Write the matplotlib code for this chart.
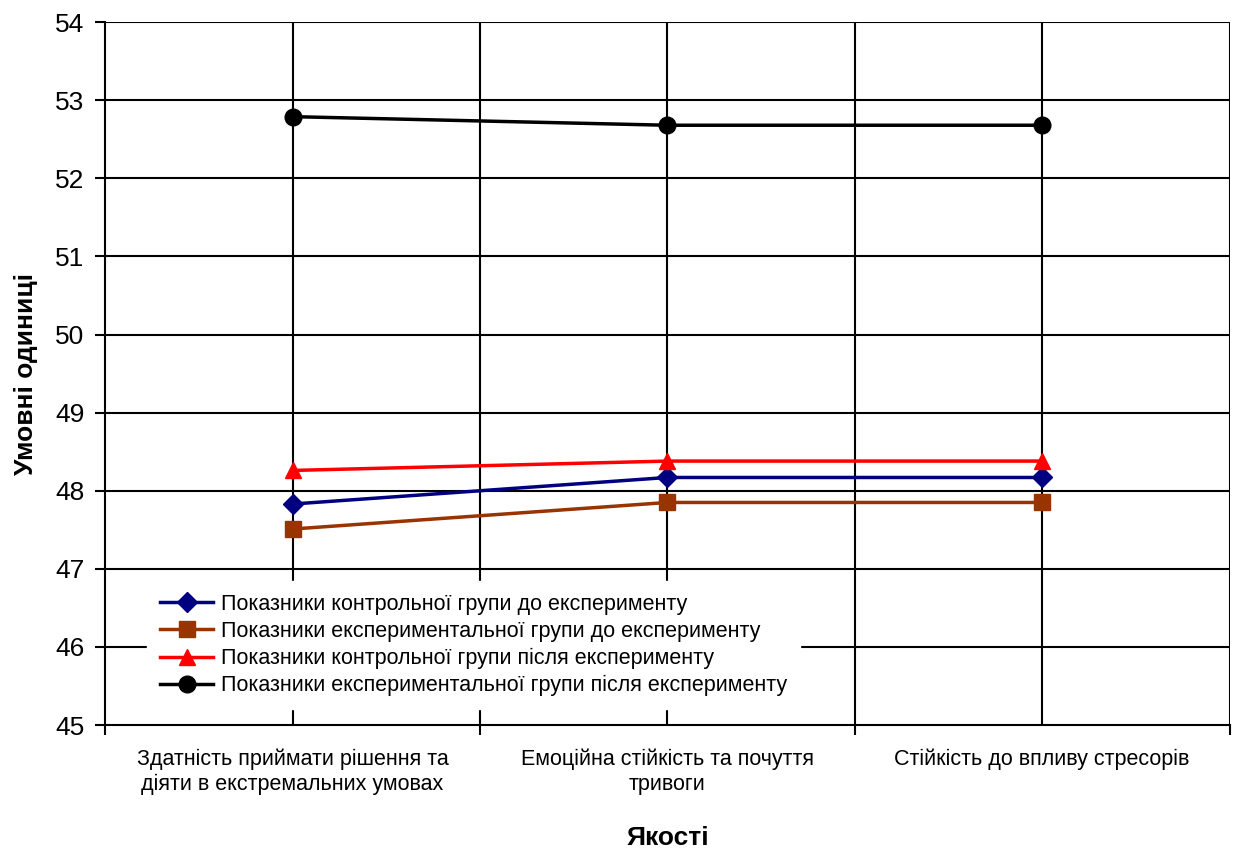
import matplotlib.pyplot as plt

plt.rcParams['font.family'] = ['Liberation Sans', 'DejaVu Sans']

categories = ["Здатність приймати рішення та\nдіяти в екстремальних умовах",
              "Емоційна стійкість та почуття\nтривоги",
              "Стійкість до впливу стресорів"]
control_before = [47.83, 48.17, 48.17]
exp_before = [47.51, 47.85, 47.85]
control_after = [48.26, 48.38, 48.38]
exp_after = [52.79, 52.68, 52.68]
labels = ["Показники контрольної групи до експерименту",
          "Показники експериментальної групи до експерименту",
          "Показники контрольної групи після експерименту",
          "Показники експериментальної групи після експерименту"]

fig = plt.figure(figsize=(12.37, 8.52), dpi=100)
ax = fig.add_axes([0.085, 0.149, 0.909, 0.825])

x = [1, 2, 3]
ax.plot(x, control_before, color='#000080', marker='D', ms=10, lw=2.5, label=labels[0], zorder=5)
ax.plot(x, exp_before, color='#993300', marker='s', ms=12, lw=2.5, label=labels[1], zorder=5)
ax.plot(x, control_after, color='#ff0000', marker='^', ms=12, lw=2.5, label=labels[2], zorder=5)
ax.plot(x, exp_after, color='#000000', marker='o', ms=12, lw=2.5, label=labels[3], zorder=5)

ax.set_xlim(0.5, 3.5)
ax.set_ylim(45, 54)
ax.set_yticks(range(45, 55))
ax.set_xticks([0.5, 1.5, 2.5, 3.5])
ax.set_xticklabels([])
ax.set_xticks(x, minor=True)
ax.set_xticklabels(categories, minor=True, fontsize=15.5, linespacing=1.25)
ax.tick_params(axis='x', which='minor', length=0, pad=17)
ax.tick_params(axis='x', which='major', length=7, width=1.5, direction='out')
ax.tick_params(axis='y', length=7, width=1.5, labelsize=19, pad=8)

for v in [1, 1.5, 2, 2.5, 3, 3.5]:
    ax.axvline(v, color='black', lw=1.5, zorder=1)
for v in range(46, 55):
    ax.axhline(v, color='black', lw=1.5, zorder=1)

for s in ['top', 'right']:
    ax.spines[s].set_visible(False)
for s in ['left', 'bottom']:
    ax.spines[s].set_linewidth(1.5)

ax.set_xlabel("Якості", fontsize=19, fontweight='bold', labelpad=22)
ax.set_ylabel("Умовні одиниці", fontsize=19, fontweight='bold', labelpad=12)

leg = ax.legend(loc='upper left', bbox_to_anchor=(0.037, 0.205), fontsize=15.5,
                frameon=True, fancybox=False, edgecolor='white', facecolor='white',
                framealpha=1, handlelength=2.5, handletextpad=0.33, labelspacing=0.28,
                borderpad=0.6, borderaxespad=0)
leg.set_zorder(10)

fig.savefig("out.png", dpi=100)
